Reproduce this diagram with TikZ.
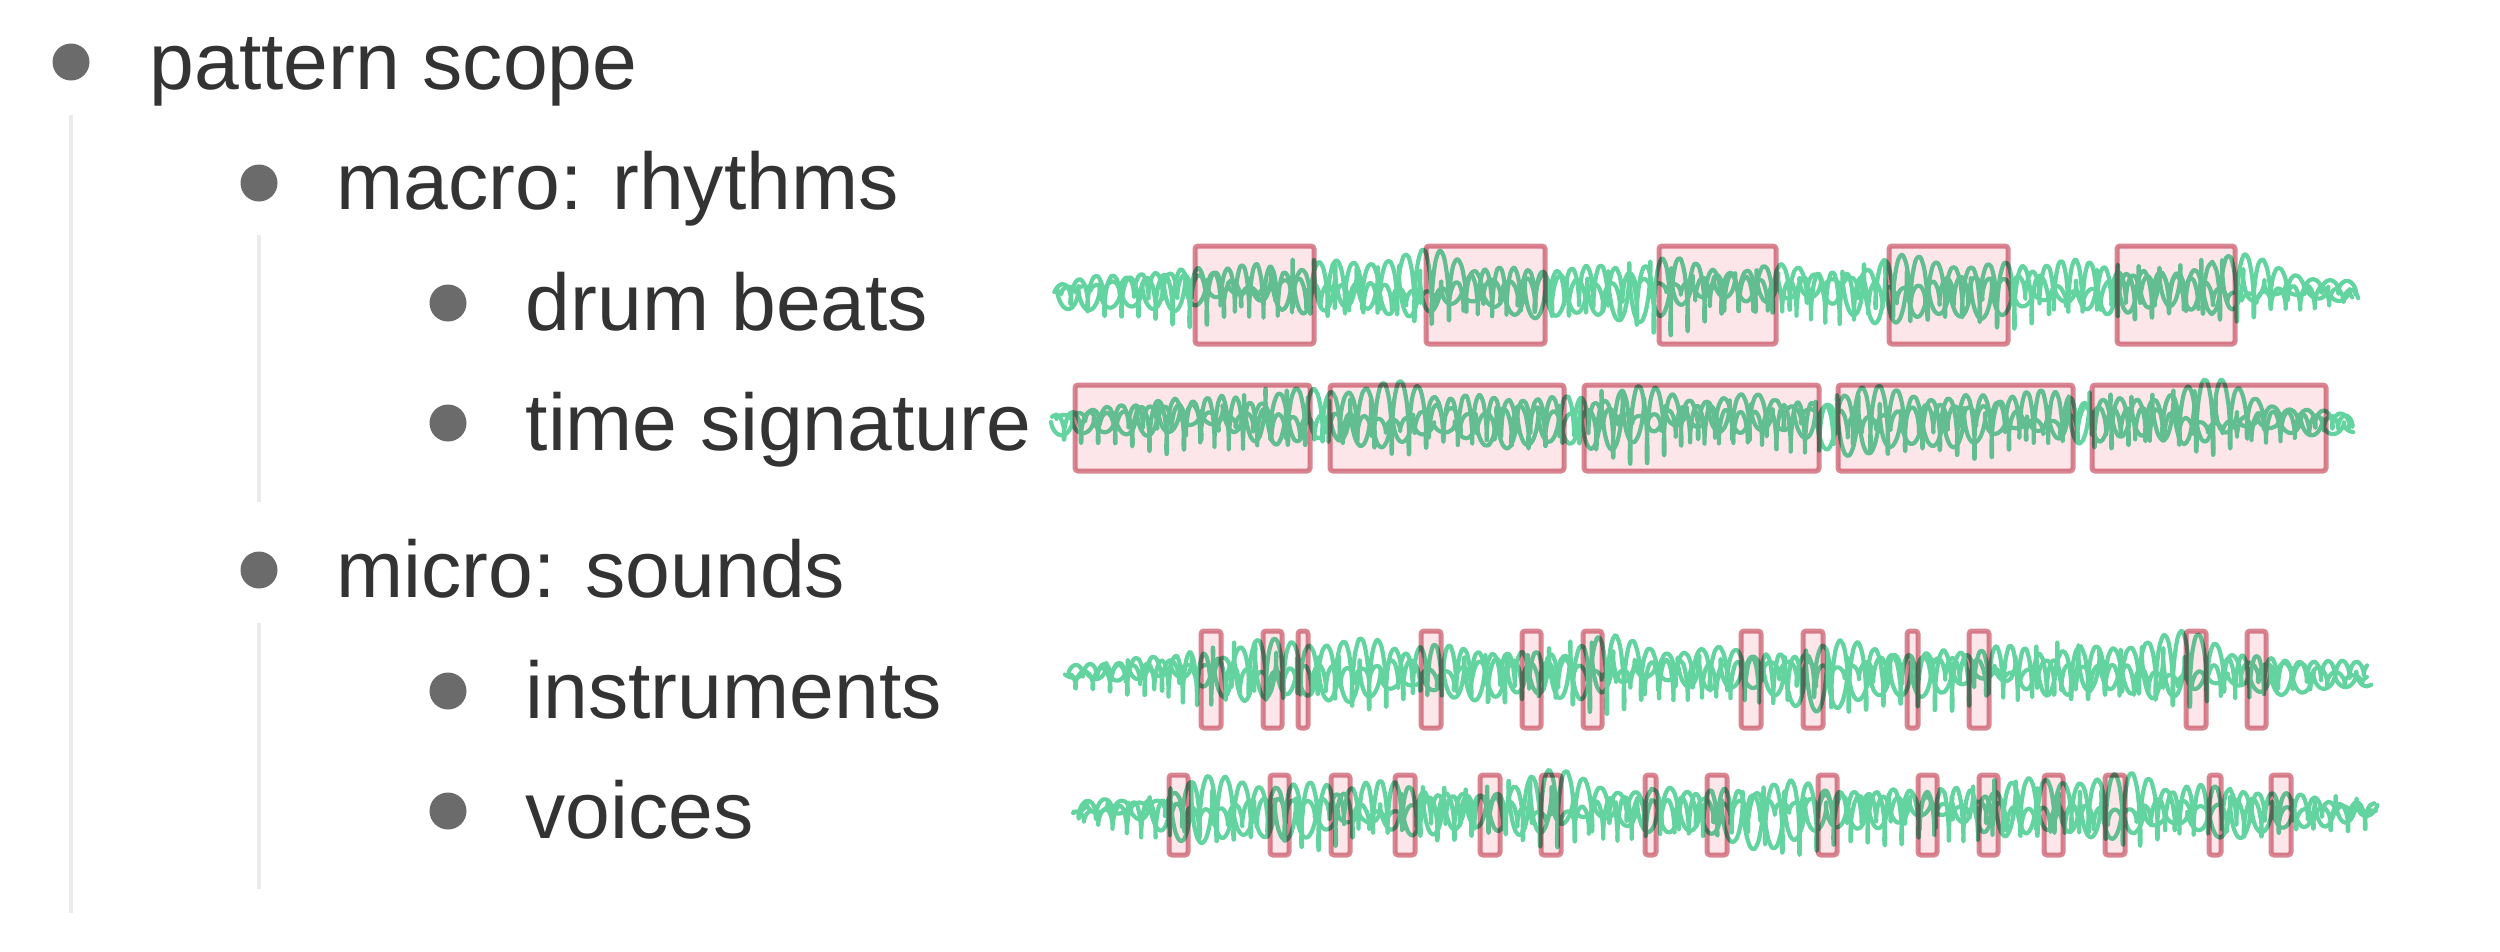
\documentclass[tikz,border=0pt]{standalone}
\usepackage{fontspec}
\setmainfont{Liberation Sans}
\usetikzlibrary{positioning}
\definecolor{txtgray}{HTML}{333333}
\definecolor{bulgray}{HTML}{6B6B6B}
\definecolor{guidegray}{HTML}{EBEBEB}
\definecolor{wavegreen}{HTML}{63D39F}
\definecolor{boxrose}{HTML}{D88692}
\definecolor{boxpink}{HTML}{FDE6EA}
\tikzset{
    mybullet/.style = {circle, fill=bulgray, minimum size=3.7mm, inner sep=0pt},
    mytext/.style = {anchor=base west, inner sep=0pt, text=txtgray, font=\fontsize{22.9}{27}\selectfont},
    myguide/.style = {-, line width=0.4mm, guidegray},
    mywave/.style = {line width=0.42mm, wavegreen, line cap=round, line join=round},
    mybox/.style = {draw=boxrose, fill=boxpink, line width=0.5mm, rounded corners=0.3mm, blend mode=multiply}
}
% one stroke of a sound line: x start, length, y centre, phase, freq, loop, height
\newcommand{\wavpass}[7]{%
  \pgfmathsetmacro\seglen{#2/9}
  \foreach \k in {0,...,8}{
    \pgfmathsetmacro\ua{\k*\seglen}
    \pgfmathsetmacro\pa{mod(\k*mod(\seglen*#5,360),360)}
    \draw[mywave] plot[domain=0:\seglen, samples=75, smooth, variable=\s]
      ({#1+\ua+\s+#6*cos(\s*#5+\pa+#4+25*sin((\ua+\s)*0.6+#4))},
       {#3+6*sin((\ua+\s)*0.8+#4)-wenv(\ua+\s,#2)*#7*(0.6+0.25*sin((\ua+\s)*1.3+#4)+0.2*sin((\ua+\s)*3.1+2*#4))*sin(\s*#5+\pa+#4+25*sin((\ua+\s)*0.6+#4))});
  }
}
\newcommand{\wavrow}[4]{%
  \wavpass{#1}{#2}{#3}{#4}{21}{-3.6}{38}
  \wavpass{#1}{#2}{#3}{#4+77}{17}{4}{30}
  \wavpass{#1}{#2}{#3}{#4+191}{25}{-2.6}{26}
}

\begin{document}
\begin{tikzpicture}[x=0.1mm,y=-0.1mm,
    declare function={wenv(\u,\l)=0.3+0.7*min(1,\u/(0.09*\l),(\l-\u)/(0.11*\l));}]
\useasboundingbox (0,0) rectangle (2500,951);
%
\node[mybullet] at (71,62) (b1) {};
\node[mybullet] at (259,183) (b2) {};
\node[mybullet] at (448,303) (b3) {};
\node[mybullet] at (448,423) (b4) {};
\node[mybullet] at (259,570) (b5) {};
\node[mybullet] at (448,691) (b6) {};
\node[mybullet] at (448,811) (b7) {};
%
\node[mytext] at (149,89) (scope) {pattern scope};
\node[mytext] at (336,209) (macro) {macro: rhythms};
\node[mytext] at (525,330) (drum) {drum beats};
\node[mytext] at (525,450) (time) {time signature};
\node[mytext] at (336,597) (micro) {micro: sounds};
\node[mytext] at (525,718) (instr) {instruments};
\node[mytext] at (525,838) (voice) {voices};
%
\coordinate (e1) at (0,913);
\coordinate (e2) at (0,502);
\coordinate (e5) at (0,889);
\draw[myguide] ([yshift=-5.3mm]b1.center) -- (b1.center |- e1);
\draw[myguide] ([yshift=-5.2mm]b2.center) -- (b2.center |- e2);
\draw[myguide] ([yshift=-5.3mm]b5.center) -- (b5.center |- e5);
%
\wavrow{1058}{1298}{292}{0}
\wavrow{1054}{1300}{422}{40}
\wavrow{1069}{1300}{675}{110}
\wavrow{1075}{1299}{813}{200}
%
\foreach \a/\b in {1195/1314,1426/1545,1659/1776,1889/2008,2117/2235}
  \draw[mybox] (\a,246) rectangle (\b,344);
\foreach \a/\b in {1075/1310,1330/1564,1584/1819,1838/2073,2092/2326}
  \draw[mybox] (\a,385) rectangle (\b,471);
\foreach \a/\b in {1201/1221,1263/1282,1298/1308,1421/1441,1522/1541,1583/1602,1741/1761,1803/1823,1907/1918,1969/1989,2186/2206,2247/2266}
  \draw[mybox] (\a,631) rectangle (\b,728);
\foreach \a/\b in {1169/1188,1270/1289,1331/1350,1395/1415,1480/1500,1541/1561,1645/1656,1707/1727,1818/1837,1918/1937,1979/1998,2044/2063,2105/2125,2209/2221,2271/2291}
  \draw[mybox] (\a,775) rectangle (\b,855);

\end{tikzpicture}
\end{document}
